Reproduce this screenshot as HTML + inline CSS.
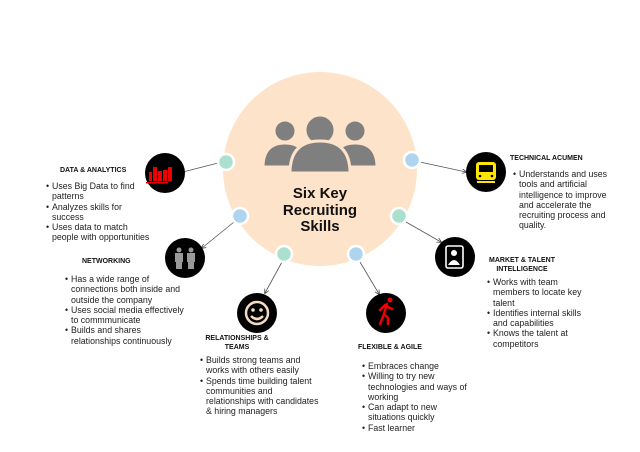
<!DOCTYPE html>
<html><head><style>
body{margin:0;width:640px;height:452px;background:#fff;position:relative;overflow:hidden;font-family:"Liberation Sans",Arial,sans-serif;color:#222}
.t{position:absolute;font-size:7px;font-weight:bold;color:#111;line-height:9px;white-space:nowrap}
ul{position:absolute;margin:0;padding:0 0 0 6px;font-size:8.8px;line-height:10.3px;list-style:none;white-space:nowrap}
li{position:relative}
li:before{content:"•";position:absolute;left:-6px}
.title{position:absolute;left:250px;width:140px;text-align:center;top:186px;font-size:15px;font-weight:bold;line-height:16.5px;color:#111}
</style></head><body>
<svg width="640" height="452" style="position:absolute;left:0;top:0">
<defs><marker id="a" markerWidth="6" markerHeight="6" refX="5" refY="3" orient="auto"><path d="M0,0 L6,3 L0,6" fill="none" stroke="#444" stroke-width="1"/></marker></defs>
<circle cx="320" cy="169" r="97" fill="#fde3c9"/>
<g fill="#7f7f7f" stroke="#fde3c9" stroke-width="3">
<circle cx="285" cy="131" r="11"/><path d="M263,167 q0,-24 22,-24 q22,0 22,24z"/>
<circle cx="355" cy="131" r="11"/><path d="M333,167 q0,-24 22,-24 q22,0 22,24z"/>
<circle cx="320" cy="130" r="15"/><path d="M290,173 q0,-32 30,-32 q30,0 30,32z"/>
</g>
<g stroke="#555" stroke-width="0.8" marker-end="url(#a)">
<line x1="218" y1="163" x2="179" y2="173"/>
<line x1="234" y1="222" x2="202" y2="248"/>
<line x1="282" y1="262" x2="265" y2="293"/>
<line x1="420" y1="162" x2="466" y2="172"/>
<line x1="406" y1="222" x2="441" y2="242"/>
<line x1="360" y1="262" x2="379" y2="294"/>
</g>
<g stroke="#fff" stroke-width="2.5">
<circle cx="226" cy="162" r="8" fill="#abe0cf"/>
<circle cx="240" cy="216" r="8" fill="#aed4ef"/>
<circle cx="284" cy="254" r="8" fill="#abe0cf"/>
<circle cx="412" cy="160" r="8" fill="#aed4ef"/>
<circle cx="399" cy="216" r="8" fill="#abe0cf"/>
<circle cx="356" cy="254" r="8" fill="#aed4ef"/>
</g>
<g fill="#000">
<circle cx="165" cy="173" r="20"/><circle cx="185" cy="258" r="20"/>
<circle cx="257" cy="313" r="20"/><circle cx="386" cy="313" r="20"/>
<circle cx="455" cy="257" r="20"/><circle cx="486" cy="172" r="20"/>
</g>
<g fill="#e00"><rect x="149" y="172" width="3" height="9"/><rect x="153" y="167" width="4" height="14"/><rect x="158" y="171" width="4" height="10"/><rect x="163" y="170" width="4" height="11"/><rect x="168" y="167" width="4" height="14"/><rect x="146" y="182" width="22" height="1.5"/></g>
<g fill="#999"><circle cx="179" cy="250" r="2.5"/><rect x="175" y="253" width="8" height="9"/><rect x="176" y="262" width="6" height="7"/>
<circle cx="191" cy="250" r="2.5"/><rect x="187" y="253" width="8" height="9"/><rect x="188" y="262" width="6" height="7"/></g>
<g fill="none" stroke="#f5dcc0" stroke-width="2.5"><circle cx="257" cy="313" r="11"/><path d="M251,316 q6,6 12,0"/></g>
<circle cx="253" cy="310" r="1.8" fill="#f5dcc0"/><circle cx="261" cy="310" r="1.8" fill="#f5dcc0"/>
<g stroke="#e00" stroke-width="2.5" fill="none" stroke-linecap="round"><path d="M387,304 l-3,10 l4,4 l0,6 M384,314 l-4,10 M386,306 l6,3 M385,305 l-5,5"/></g><circle cx="390" cy="300" r="2.5" fill="#e00"/>
<rect x="446" y="246" width="17" height="22" rx="2" fill="none" stroke="#fff" stroke-width="1.6"/>
<circle cx="454" cy="253" r="3" fill="#fff"/><path d="M448,265 q6,-10 12,0z" fill="#fff"/>
<rect x="476" y="162" width="20" height="18" rx="3" fill="#ffe600"/><rect x="479" y="165" width="14" height="7" fill="#000"/>
<circle cx="480" cy="176" r="1.3" fill="#000"/><circle cx="492" cy="176" r="1.3" fill="#000"/>
<rect x="477" y="181" width="18" height="2" fill="#ffe600"/>
</svg>
<div class="title">Six Key<br>Recruiting<br>Skills</div>

<div class="t" style="left:60px;top:166px">DATA &amp; ANALYTICS</div>
<ul style="left:46px;top:181px"><li>Uses Big Data to find<br>patterns</li><li>Analyzes skills for<br>success</li><li>Uses data to match<br>people with opportunities</li></ul>

<div class="t" style="left:82px;top:257px">NETWORKING</div>
<ul style="left:65px;top:274px"><li>Has a wide range of<br>connections both inside and<br>outside the company</li><li>Uses social media effectively<br>to commmunicate</li><li>Builds and shares<br>relationships continuously</li></ul>

<div class="t" style="left:202px;top:334px;text-align:center;width:70px">RELATIONSHIPS &amp;<br>TEAMS</div>
<ul style="left:200px;top:355px"><li>Builds strong teams and<br>works with others easily</li><li>Spends time building talent<br>communities and<br>relationships with candidates<br>&amp; hiring managers</li></ul>

<div class="t" style="left:358px;top:343px">FLEXIBLE &amp; AGILE</div>
<ul style="left:362px;top:361px"><li>Embraces change</li><li>Willing to try new<br>technologies and ways of<br>working</li><li>Can adapt to new<br>situations quickly</li><li>Fast learner</li></ul>

<div class="t" style="left:486px;top:256px;text-align:center;width:72px">MARKET &amp; TALENT<br>INTELLIGENCE</div>
<ul style="left:487px;top:277px"><li>Works with team<br>members to locate key<br>talent</li><li>Identifies internal skills<br>and capabilities</li><li>Knows the talent at<br>competitors</li></ul>

<div class="t" style="left:510px;top:154px">TECHNICAL ACUMEN</div>
<ul style="left:513px;top:169px"><li>Understands and uses<br>tools and artificial<br>intelligence to improve<br>and accelerate the<br>recruiting process and<br>quality.</li></ul>
</body></html>
